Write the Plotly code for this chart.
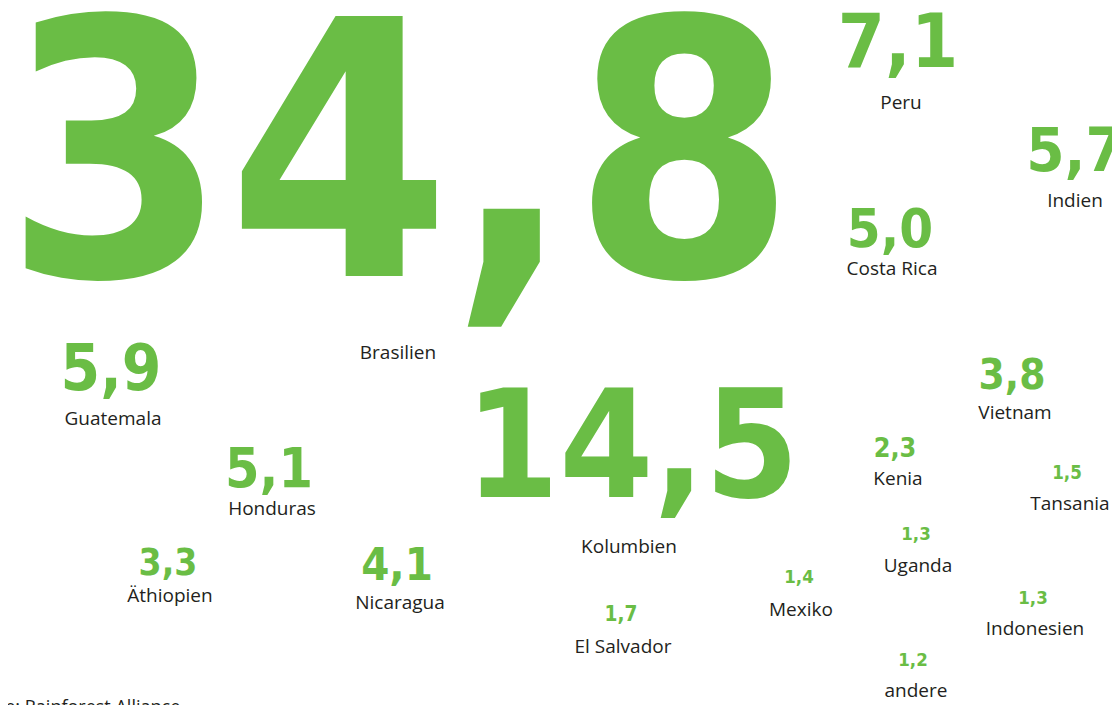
import plotly.graph_objects as go

countries = ["Brasilien", "Kolumbien", "Peru", "Guatemala", "Indien", "Honduras",
             "Costa Rica", "Nicaragua", "Vietnam", "Äthiopien", "Kenia", "El Salvador",
             "Tansania", "Mexiko", "Uganda", "Indonesien", "andere"]
values = [34.8, 14.5, 7.1, 5.9, 5.7, 5.1, 5.0, 4.1, 3.8, 3.3, 2.3, 1.7, 1.5, 1.4, 1.3, 1.3, 1.2]
source = "Quelle: Rainforest Alliance"

# layout positions (pixels): number centre x / baseline, label centre x / baseline
num_x = [400, 632, 898, 111, 1075, 269, 890, 397, 1012, 168, 895, 621, 1067, 799, 916, 1033, 913]
num_base = [277, 498, 68, 391, 172, 488, 248, 581, 390, 576, 458, 622, 480, 584, 541, 605, 667]
lab_x = [398, 629, 901, 113, 1075, 272, 892, 400, 1015, 170, 898, 623, 1070, 801, 918, 1035, 916]
lab_base = [359, 553, 109, 425, 207, 515, 275, 609, 419, 602, 485, 653, 510, 616, 572, 635, 697]

GREEN = "#6abd45"
DARK = "#231f20"
LAB_FS = 19
NUM_FONT = "DejaVu Sans Condensed, Roboto, sans-serif"
LAB_FONT = "Open Sans"

num_fs = [max(3.4 + 10.15 * v, 18.5) for v in values]
num_text = [f"{v:.1f}".replace(".", ",") for v in values]

def ypos(base, fs, extra=0.0):
    return base - 0.25 * fs - extra

fig = go.Figure()
fig.add_trace(go.Scatter(
    x=num_x, y=[ypos(b, f, 1) for b, f in zip(num_base, num_fs)],
    mode="text", text=num_text, textposition="middle center",
    textfont=dict(family=NUM_FONT, size=num_fs, color=GREEN, weight="bold"),
    hoverinfo="skip", showlegend=False))
fig.add_trace(go.Scatter(
    x=lab_x, y=[ypos(b, LAB_FS) for b in lab_base],
    mode="text", text=countries, textposition="middle center",
    textfont=dict(family=LAB_FONT, size=LAB_FS, color=DARK),
    hoverinfo="skip", showlegend=False))

fig.add_annotation(x=182, y=692, xref="x", yref="y", text=source, showarrow=False,
                   xanchor="right", yanchor="top",
                   font=dict(family=LAB_FONT, size=18, color=DARK))

# the page body has an 8px margin, so the axis ranges start at 8
fig.update_layout(
    width=1120, height=705, margin=dict(l=0, r=0, t=0, b=0),
    paper_bgcolor="white", plot_bgcolor="white",
    xaxis=dict(range=[8, 1128], visible=False, fixedrange=True),
    yaxis=dict(range=[713, 8], visible=False, fixedrange=True),
)
fig.write_html("out.html")
